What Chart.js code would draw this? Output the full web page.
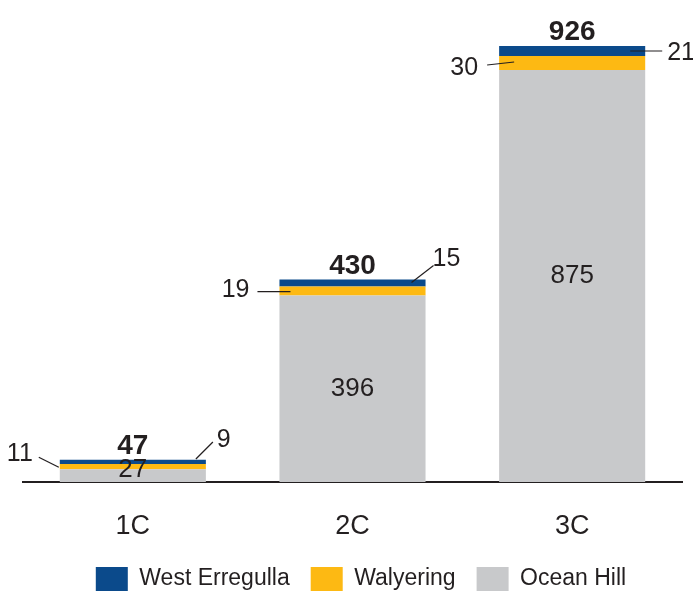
<!DOCTYPE html>
<html><head><meta charset="utf-8">
<script src="https://cdn.jsdelivr.net/npm/chart.js@4"></script>
<style>html,body{margin:0;padding:0;background:#fff;overflow:hidden}#wrap{width:693px;height:601px}</style>
</head><body><div id="wrap"><canvas id="c" width="693" height="601"></canvas></div>
<script>
// ---- data ----
const categories = ['1C', '2C', '3C'];
const oceanHill = [27, 396, 875];
const walyering = [11, 19, 30];
const westErregulla = [9, 15, 21];
const totals = [47, 430, 926];
const seriesNames = ['Ocean Hill', 'Walyering', 'West Erregulla'];

// ---- styling / annotation layout (not data) ----
const TEXT = '#231f20';
const FONT = '"Liberation Sans", Arial, Helvetica, sans-serif';
const colors = ['#c8c9cb', '#fdb913', '#0b4a8b'];
// Walyering leaders sit left of bar, West Erregulla leaders right of bar
const leftLeaders = [
  {endDx: -1, endDy: 0.5, startDx: -21, startDy: -9.5, gap: 6, labelDy: -12.5},
  {endDx: 11, endDy: 0.5, startDx: -22, startDy: 0.5, gap: 8, labelDy: -0.5},
  {endDx: 15, endDy: -1, startDx: -12, startDy: 2, gap: 9, labelDy: 5}
];
const rightLeaders = [
  {endDx: -10, endDy: -3, startDx: 7, startDy: -20, gap: 4, labelDy: -21.5},
  {endDx: -14, endDy: -0.5, startDx: 8, startDy: -17.5, gap: -1, labelDy: -23.5},
  {endDx: -15, endDy: 0, startDx: 17, startDy: 0, gap: 5, labelDy: 2}
];

Chart.defaults.font.family = FONT;
Chart.defaults.color = TEXT;

const labelPlugin = {
  id: 'stackLabels',
  afterLayout(chart) {
    chart.legend.left += 17;
  },
  afterDatasetsDraw(chart) {
    const ctx = chart.ctx;
    const mOcean = chart.getDatasetMeta(0).data;
    const mWaly = chart.getDatasetMeta(1).data;
    const mWest = chart.getDatasetMeta(2).data;
    ctx.save();
    ctx.fillStyle = TEXT;
    ctx.strokeStyle = TEXT;
    ctx.lineWidth = 1.2;
    categories.forEach((c, i) => {
      const o = mOcean[i].getProps(['x', 'y', 'base', 'width'], true);
      const w = mWaly[i].getProps(['x', 'y', 'base', 'width'], true);
      const e = mWest[i].getProps(['x', 'y', 'base', 'width'], true);
      const left = o.x - o.width / 2, right = o.x + o.width / 2;
      // total
      ctx.font = 'bold 28px ' + FONT;
      ctx.textAlign = 'center';
      ctx.textBaseline = 'alphabetic';
      ctx.fillText(String(totals[i]), e.x, Math.min(e.y, e.base) - 6);
      // ocean hill inside label
      ctx.font = '26px ' + FONT;
      ctx.textBaseline = 'middle';
      let cy = (o.y + o.base) / 2;
      cy = Math.min(cy, o.base - 12);
      ctx.fillText(String(oceanHill[i]), o.x, cy);
      // walyering leader (left)
      ctx.font = '25px ' + FONT;
      const wm = (w.y + w.base) / 2;
      const L = leftLeaders[i];
      ctx.beginPath();
      ctx.moveTo(left + L.startDx, wm + L.startDy);
      ctx.lineTo(left + L.endDx, wm + L.endDy);
      ctx.stroke();
      ctx.textAlign = 'right';
      ctx.fillText(String(walyering[i]), left + L.startDx - L.gap, wm + L.labelDy);
      // west erregulla leader (right)
      const em = (e.y + e.base) / 2;
      const R = rightLeaders[i];
      ctx.beginPath();
      ctx.moveTo(right + R.startDx, em + R.startDy);
      ctx.lineTo(right + R.endDx, em + R.endDy);
      ctx.stroke();
      ctx.textAlign = 'left';
      ctx.fillText(String(westErregulla[i]), right + R.startDx + R.gap, em + R.labelDy);
    });
    ctx.restore();
  }
};

new Chart(document.getElementById('c'), {
  type: 'bar',
  data: {
    labels: categories,
    datasets: [
      {label: seriesNames[0], data: oceanHill, backgroundColor: colors[0]},
      {label: seriesNames[1], data: walyering, backgroundColor: colors[1]},
      {label: seriesNames[2], data: westErregulla, backgroundColor: colors[2]}
    ]
  },
  options: {
    responsive: false,
    animation: false,
    events: [],
    layout: {padding: {top: 11.2, left: 23, right: 11, bottom: 0}},
    datasets: {bar: {barPercentage: 0.665, categoryPercentage: 1, borderWidth: 0}},
    scales: {
      x: {
        stacked: true,
        grid: {display: false, drawTicks: false},
        border: {display: true, color: TEXT, width: 2},
        ticks: {font: {size: 27}, color: TEXT, padding: 28},
        afterFit(scale) { scale.height = 64; }
      },
      y: {stacked: true, display: false, min: 0, max: 1000}
    },
    plugins: {
      tooltip: {enabled: false},
      legend: {
        position: 'bottom',
        reverse: true,
        labels: {boxWidth: 32, boxHeight: 24, padding: 21, color: TEXT, font: {size: 23}}
      }
    }
  },
  plugins: [labelPlugin]
});
</script>
</body></html>
